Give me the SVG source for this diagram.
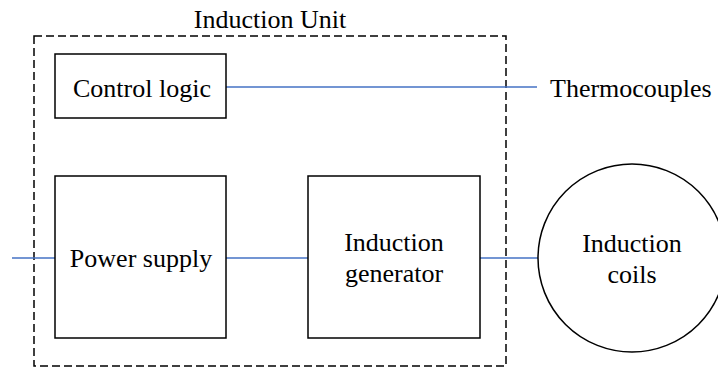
<svg xmlns="http://www.w3.org/2000/svg" width="718" height="367" viewBox="0 0 718 367">
  <style>
    .box { fill: #ffffff; stroke: #000000; stroke-width: 1.5; }
    .unit { fill: none; stroke: #000000; stroke-width: 1.5; stroke-dasharray: 8 4; }
    .wire { stroke: #4472C4; stroke-width: 1.5; fill: none; }
    text { font-family: 'Liberation Serif', 'DejaVu Serif', 'Times New Roman', serif; font-size: 26px; fill: #000000; }
    .mid { text-anchor: middle; }
  </style>
  <rect width="718" height="367" fill="#ffffff"/>

  <!-- Induction unit boundary -->
  <g id="induction-unit">
    <rect class="unit" x="34" y="36" width="472" height="330"/>
    <text class="mid" x="270" y="28">Induction Unit</text>
  </g>

  <!-- Connectors -->
  <g id="connectors">
    <line class="wire" x1="226" y1="87" x2="537" y2="87"/>
    <line class="wire" x1="12" y1="258" x2="55" y2="258"/>
    <line class="wire" x1="226" y1="258" x2="308" y2="258"/>
    <line class="wire" x1="480" y1="258" x2="538" y2="258"/>
  </g>

  <g id="control-logic">
    <rect class="box" x="55" y="54" width="171" height="64"/>
    <text class="mid" x="142" y="97">Control logic</text>
  </g>

  <g id="power-supply">
    <rect class="box" x="55" y="176" width="171" height="162"/>
    <text class="mid" x="141" y="267">Power supply</text>
  </g>

  <g id="induction-generator">
    <rect class="box" x="308" y="176" width="172" height="162"/>
    <text class="mid" x="394" y="251">Induction</text>
    <text class="mid" x="394" y="282">generator</text>
  </g>

  <g id="induction-coils">
    <circle class="box" cx="632" cy="258" r="94"/>
    <text class="mid" x="632" y="252">Induction</text>
    <text class="mid" x="632" y="283">coils</text>
  </g>

  <g id="thermocouples">
    <text x="550" y="97">Thermocouples</text>
  </g>
</svg>
